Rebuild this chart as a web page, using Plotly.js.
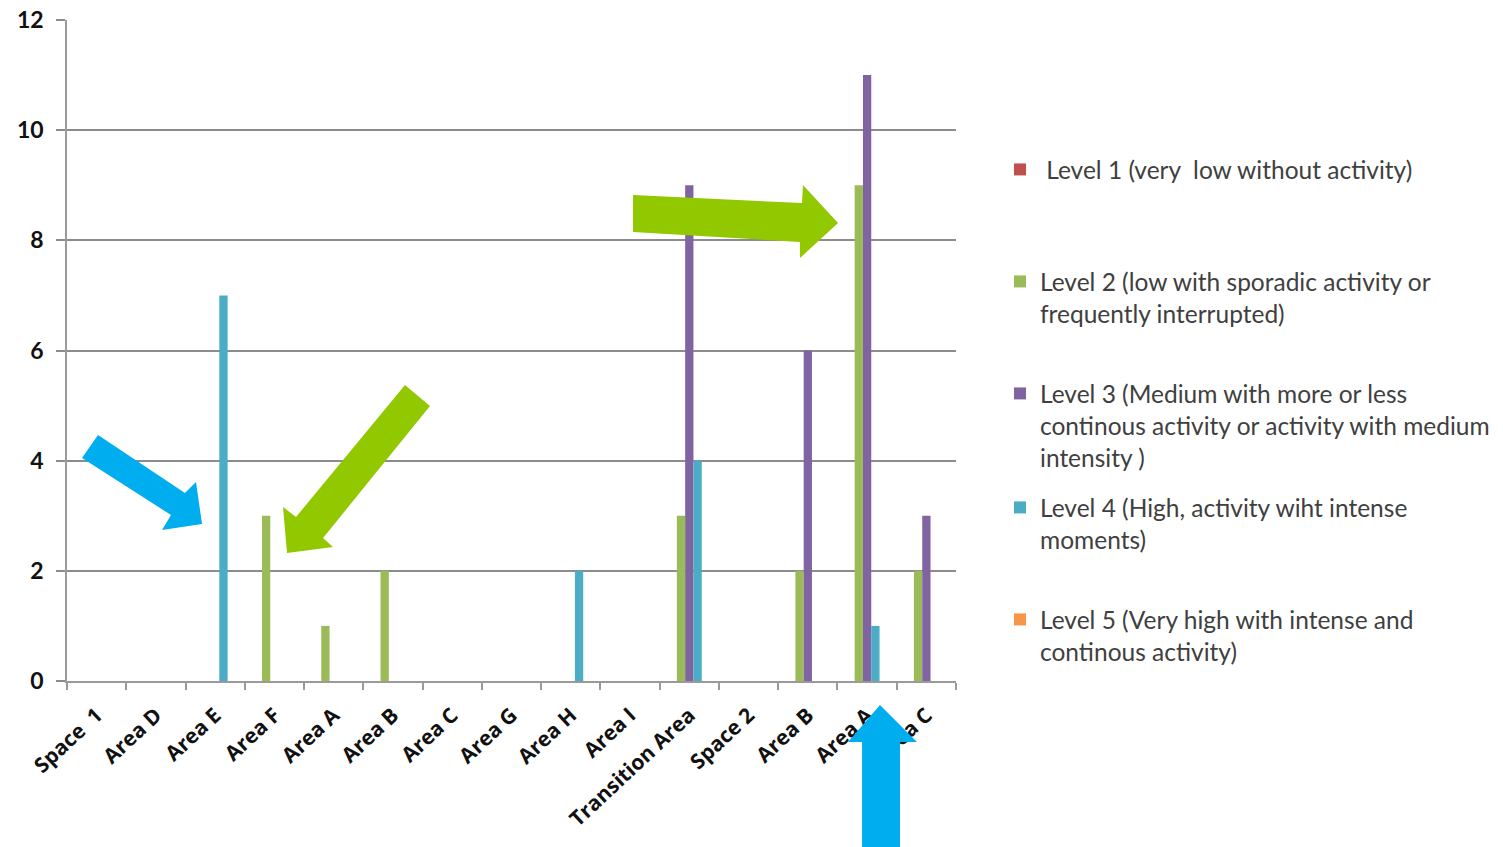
<!DOCTYPE html>
<html>
<head>
<meta charset="utf-8">
<script src="https://cdn.plot.ly/plotly-3.0.1.min.js"></script>
<style>html,body{margin:0;padding:0;background:#fff;}#chart{width:1503px;height:847px;}</style>
</head>
<body>
<div id="chart"></div>
<script>
// ---- data ----
const categories = ["Space  1", "Area D", "Area E", "Area F", "Area A", "Area B", "Area C", "Area G",
  "Area H", "Area I", "Transition Area", "Space 2", "Area B", "Area A", "Area C"];
const level1 = [0, 0, 0, 0, 0, 0, 0, 0, 0, 0, 0, 0, 0, 0, 0];
const level2 = [0, 0, 0, 3, 1, 2, 0, 0, 0, 0, 3, 0, 2, 9, 2];
const level3 = [0, 0, 0, 0, 0, 0, 0, 0, 0, 0, 9, 0, 6, 11, 3];
const level4 = [0, 0, 7, 0, 0, 0, 0, 0, 2, 0, 4, 0, 0, 1, 0];
const level5 = [0, 0, 0, 0, 0, 0, 0, 0, 0, 0, 0, 0, 0, 0, 0];
const seriesNames = [
  " Level 1 (very  low without activity)",
  "Level 2 (low with sporadic activity or<br>frequently interrupted)",
  "Level 3 (Medium with more or less<br>continous activity or activity with medium<br>intensity )",
  "Level 4 (High, activity wiht intense<br>moments)",
  "Level 5 (Very high with intense and<br>continous activity)"
];
const yTicks = [0, 2, 4, 6, 8, 10, 12];

// ---- styling ----
const colors = ["#C0504D", "#9BBB59", "#8064A2", "#4BACC6", "#F79646"];
const allSeries = [level1, level2, level3, level4, level5];
const legendIds = ["legend", "legend2", "legend3", "legend4", "legend5"];
const xIdx = categories.map((_, i) => i);

const traces = allSeries.map((vals, k) => ({
  type: "bar",
  x: xIdx,
  y: vals,
  name: seriesNames[k],
  marker: {color: colors[k], line: {width: 0}},
  legend: legendIds[k],
  hoverinfo: "y+name"
}));

// plot area in pixels
const L = 67, R = 956, T = 20, B = 681;
const px = x => (x - L) / (R - L);
const py = y => (B - y) / (B - T);
function poly(pts, color) {
  const d = pts.map((p, i) => (i ? "L" : "M") + px(p[0]).toFixed(4) + "," + py(p[1]).toFixed(4)).join(" ") + " Z";
  return {type: "path", xref: "paper", yref: "paper", path: d, fillcolor: color, line: {width: 0}, layer: "above"};
}
const arrowBlue = "#00AEEF", arrowGreen = "#92C800";
const shapes = [
  poly([[98,435],[185,493],[196,482],[202,524],[162,530],[171,515],[82,458]], arrowBlue),
  poly([[405,385],[430,406],[323,538],[333,547],[287,553],[283,507],[296,517]], arrowGreen),
  poly([[633,195],[802,203],[803,185],[838,223],[800,258],[800,242],[633,232]], arrowGreen),
  poly([[880,705],[917,742],[900,742],[900,847],[862,847],[862,742],[848,742]], arrowBlue)
];

const legendFont = {family: "Lato, 'Open Sans', sans-serif", size: 24.5, color: "#404040"};
const legendY = [169, 281, 393, 507, 619];
const layout = {
  width: 1503, height: 847,
  margin: {l: L, r: 1503 - R, t: T, b: 847 - B, autoexpand: false},
  paper_bgcolor: "#fff", plot_bgcolor: "#fff",
  barmode: "group", bargap: 0.3, bargroupgap: 0,
  showlegend: true,
  xaxis: {
    range: [-0.5, categories.length - 0.5],
    tickmode: "array", tickvals: xIdx, ticktext: categories,
    tickangle: -43, ticks: "", showgrid: false, zeroline: false,
    showline: true, linecolor: "#9a9a9a", linewidth: 1.5,
    ticklabelstandoff: 12,
    tickfont: {family: "'Open Sans', Lato, sans-serif", size: 21, weight: "bold", color: "#111"},
    minor: {tick0: -0.5, dtick: 1, ticks: "outside", ticklen: 7, tickcolor: "#9a9a9a", tickwidth: 1.5, showgrid: false},
    automargin: false,
    fixedrange: true
  },
  yaxis: {
    range: [0, 12], tickmode: "array", tickvals: yTicks,
    showgrid: true, gridcolor: "#8c8c8c", gridwidth: 1.5,
    zeroline: false, showline: true, linecolor: "#9a9a9a", linewidth: 1.5,
    ticks: "outside", ticklen: 9, tickcolor: "#8c8c8c", tickwidth: 1.5,
    ticklabelstandoff: 8,
    tickfont: {family: "Lato, 'Open Sans', sans-serif", size: 23, weight: "bold", color: "#111"},
    automargin: false,
    fixedrange: true
  },
  shapes: shapes
};
legendIds.forEach((id, k) => {
  layout[id] = {
    x: px(1000), y: py(legendY[k] - 22), xanchor: "left", yanchor: "top",
    xref: "paper", yref: "paper",
    font: legendFont, bgcolor: "rgba(0,0,0,0)", borderwidth: 0,
    valign: "top", itemclick: false, itemdoubleclick: false
  };
});

Plotly.newPlot("chart", traces, layout, {displayModeBar: false, staticPlot: false});
</script>
</body>
</html>
